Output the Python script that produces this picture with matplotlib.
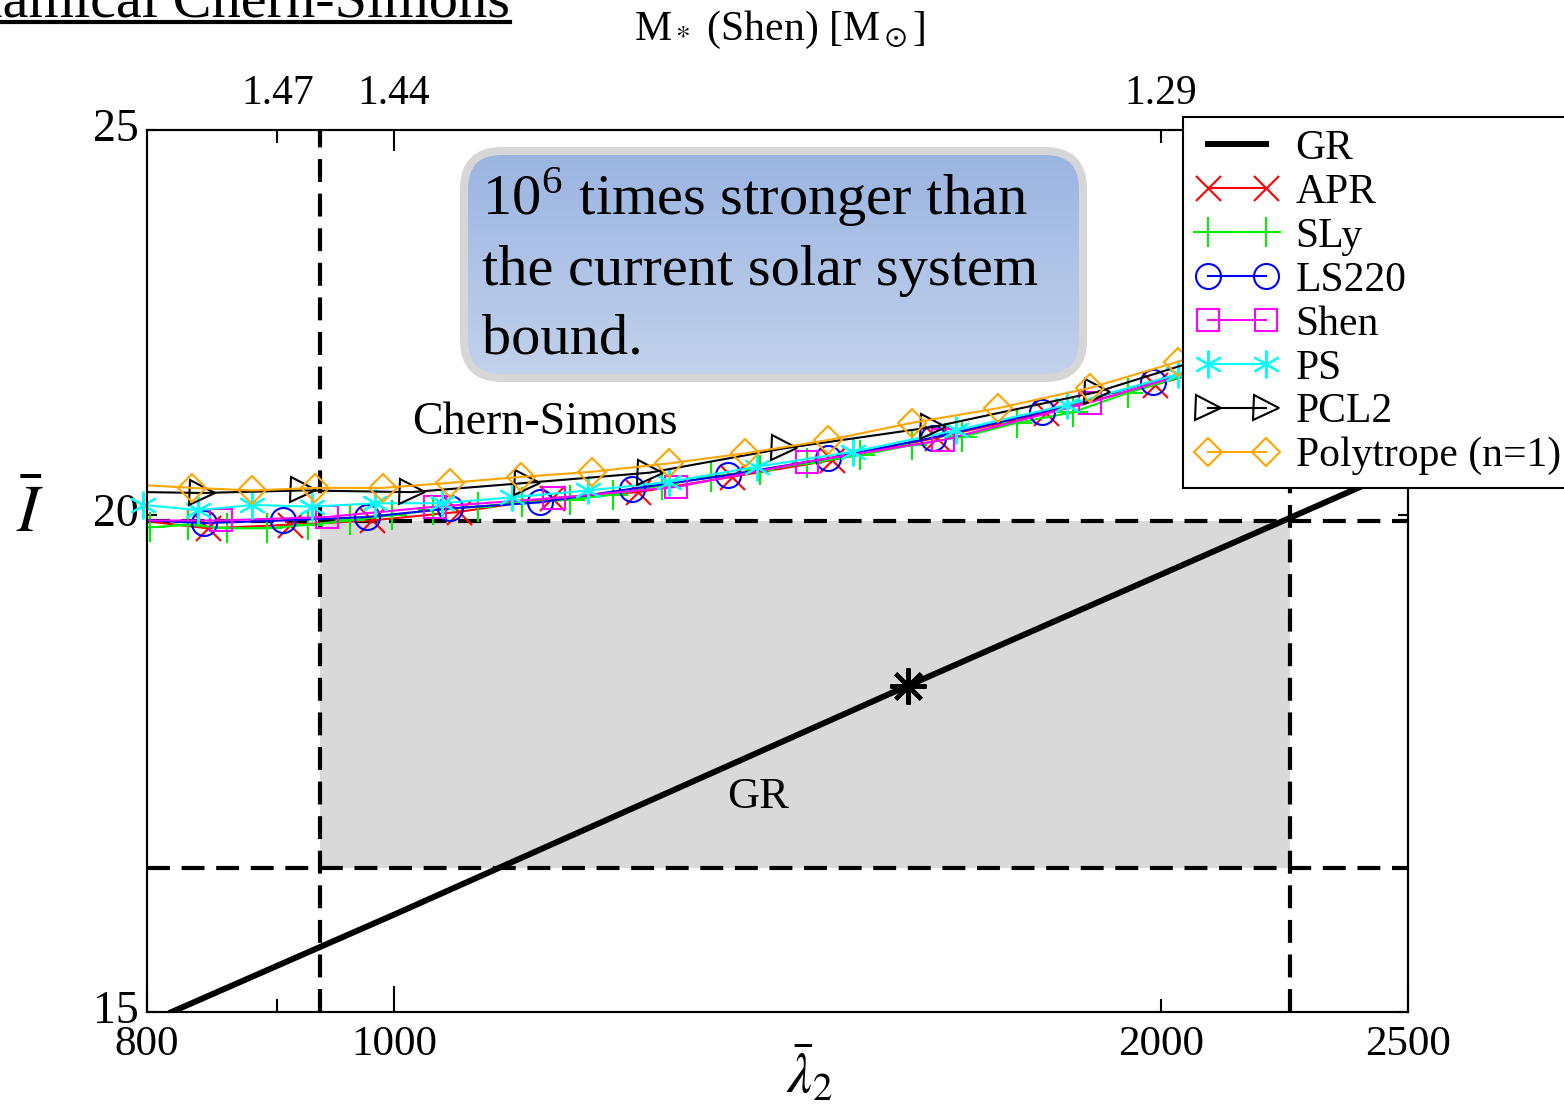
import numpy as np
import matplotlib
matplotlib.use("Agg")
import matplotlib.pyplot as plt
import matplotlib.ticker as mtick
from matplotlib.patches import FancyBboxPatch
from matplotlib.colors import LinearSegmentedColormap
from matplotlib.lines import Line2D
from matplotlib.transforms import ScaledTranslation

plt.rcParams['font.family'] = ['Liberation Serif', 'DejaVu Serif']
plt.rcParams['mathtext.fontset'] = 'stix'

# GR relation (straight in log-log) and the marked point
gr_lam = [818, 1000, 1591, 2247, 2500]
gr_I = [15.0, 15.87, 18.12, 19.97, 20.58]
star_lam = [1591]
star_I = [18.12]

# allowed region
band_lam = [935, 2248]
band_I = [16.30, 19.93]

# Chern-Simons curves per EOS
apr_lam = [800, 845, 910, 980, 1061, 1153, 1247, 1357, 1486, 1633, 1802, 1989, 2190]
apr_I = [19.93, 19.85, 19.89, 19.94, 20.04, 20.20, 20.27, 20.45, 20.65, 20.92, 21.22, 21.57, 21.95]

sly_lam = [802, 830, 860, 892, 925, 961, 998, 1036, 1079, 1123, 1172, 1219, 1274, 1332,
           1392, 1452, 1524, 1597, 1671, 1756, 1847, 1941, 2100]
sly_I = [19.86, 19.89, 19.85, 19.85, 19.89, 19.94, 20.00, 20.06, 20.10, 20.15, 20.18, 20.24, 20.35,
         20.45, 20.53, 20.61, 20.71, 20.83, 20.93, 21.10, 21.23, 21.47, 21.80]

ls220_lam = [800, 842, 905, 976, 1052, 1141, 1240, 1352, 1480, 1628, 1796, 1985, 2190]
ls220_I = [19.94, 19.91, 19.94, 19.98, 20.08, 20.15, 20.31, 20.47, 20.67, 20.92, 21.23, 21.61, 22.00]

shen_lam = [800, 855, 941, 1038, 1156, 1290, 1452, 1642, 1875, 2140]
shen_I = [19.94, 19.94, 19.98, 20.10, 20.20, 20.33, 20.63, 20.89, 21.35, 21.90]

ps_lam = [797, 838, 880, 929, 983, 1044, 1113, 1192, 1282, 1388, 1514, 1662, 1837, 2030]
ps_I = [20.12, 20.06, 20.12, 20.10, 20.14, 20.14, 20.21, 20.29, 20.39, 20.57, 20.75, 21.01, 21.32, 21.70]

pcl2_lam = [800, 841, 921, 1016, 1128, 1260, 1422, 1628, 1887, 2200]
pcl2_I = [20.27, 20.26, 20.29, 20.27, 20.38, 20.50, 20.79, 21.05, 21.48, 22.15]

poly_lam = [800, 833, 880, 931, 990, 1052, 1122, 1196, 1282, 1373, 1480, 1597, 1726, 1875, 2031, 2200]
poly_I = [20.35, 20.32, 20.29, 20.32, 20.32, 20.38, 20.45, 20.51, 20.61, 20.73, 20.89, 21.10, 21.28,
          21.53, 21.86, 22.20]

# tick labels
bottom_major = [800, 1000, 2500]
bottom_major_labels = ['800', '1000', '2500']
bottom_minor = [900, 2000]
bottom_minor_labels = ['', '2000']
top_major = [1000]
top_major_labels = ['1.44']
top_minor = [900, 2000]
top_minor_labels = ['1.47', '1.29']
y_ticks = [15, 20, 25]
y_labels = ['15', '20', '25']

W, H = 1564, 1106
fig = plt.figure(figsize=(W / 100, H / 100), dpi=100)
ax = fig.add_axes([147 / W, 1 - 1012 / H, (1408 - 147) / W, (1012 - 130) / H])
ax.set_xscale('log')
ax.set_yscale('log')
ax.set_xlim(800, 2500)
ax.set_ylim(15, 25)

# shaded box and dashed limits
ax.fill_between(band_lam, band_I[0], band_I[1], color='#d9d9d9', lw=0, zorder=0)
for v in band_lam:
    ax.axvline(v, color='k', lw=3, dashes=(5.5, 2.8), zorder=1)
for h in band_I:
    ax.axhline(h, color='k', lw=3, dashes=(5.5, 2.8), zorder=1)

gr_line, = ax.plot(gr_lam, gr_I, color='k', lw=4.3, label='GR', zorder=3)
ax.plot(star_lam, star_I, ls='none', marker=(8, 2, 0), ms=26, mew=3, color='k', zorder=4)

eos = [
    (apr_lam, apr_I, 'APR', '#ff0000', 'x', 18, 1, False),
    (sly_lam, sly_I, 'SLy', '#00ee00', '+', 22, 0, False),
    (ls220_lam, ls220_I, 'LS220', '#0000ff', 'o', 18, 1, False),
    (shen_lam, shen_I, 'Shen', '#ff00ff', 's', 16, 1, False),
    (ps_lam, ps_I, 'PS', '#00ffff', (6, 2, 0), 20, 0, True),
    (pcl2_lam, pcl2_I, 'PCL2', '#000000', '>', 18, 1, False),
    (poly_lam, poly_I, 'Polytrope (n=1)', '#ffa500', 'D', 14, 1, False),
]
handles = [gr_line]
for lam, vals, name, col, mk, size, skip, noclip in eos:
    ln, = ax.plot(lam, vals, color=col, lw=1.5, marker=mk, ms=size, mew=1.5,
                  mfc='none', mec=col, markevery=list(range(skip, len(lam))),
                  label=name, zorder=2, clip_on=not noclip)
    handles.append(ln)

# ticks
ax.xaxis.set_major_locator(mtick.FixedLocator(bottom_major))
ax.xaxis.set_major_formatter(mtick.FixedFormatter(bottom_major_labels))
ax.xaxis.set_minor_locator(mtick.FixedLocator(bottom_minor))
ax.xaxis.set_minor_formatter(mtick.FixedFormatter(bottom_minor_labels))
ax.yaxis.set_major_locator(mtick.FixedLocator(y_ticks))
ax.yaxis.set_major_formatter(mtick.FixedFormatter(y_labels))
ax.yaxis.set_minor_locator(mtick.NullLocator())
ax.tick_params(axis='x', which='major', direction='in', length=19, width=1.5, labelsize=31, pad=10, top=False)
ax.tick_params(axis='x', which='minor', direction='in', length=9.5, width=1.5, labelsize=31, pad=10, top=False)
ax.tick_params(axis='y', which='major', direction='in', length=7.5, width=1.5, labelsize=33, pad=6, right=True)
for lab in ax.get_yticklabels():
    lab.set_transform(lab.get_transform() + ScaledTranslation(0, 4 / 72, fig.dpi_scale_trans))
for s in ax.spines.values():
    s.set_linewidth(1.5)

ax_top = ax.twiny()
ax_top.set_xscale('log')
ax_top.set_xlim(800, 2500)
ax_top.xaxis.set_major_locator(mtick.FixedLocator(top_major))
ax_top.xaxis.set_major_formatter(mtick.FixedFormatter(top_major_labels))
ax_top.xaxis.set_minor_locator(mtick.FixedLocator(top_minor))
ax_top.xaxis.set_minor_formatter(mtick.FixedFormatter(top_minor_labels))
ax_top.tick_params(axis='x', which='major', direction='in', length=15, width=1.5, labelsize=30, pad=12)
ax_top.tick_params(axis='x', which='minor', direction='in', length=9, width=1.5, labelsize=30, pad=12)
for s in ax_top.spines.values():
    s.set_linewidth(1.5)

leg = ax_top.legend(handles=handles, loc='upper left', bbox_to_anchor=(1183 / W, 1 - 117 / H),
                    bbox_transform=fig.transFigure, borderaxespad=0, numpoints=2, fontsize=30,
                    fancybox=False, edgecolor='k', framealpha=1, handlelength=2.0,
                    handletextpad=0.4, labelspacing=0.13, borderpad=0.3)
leg.get_frame().set_linewidth(1.5)

# labels and annotations
fig.text(30 / W, 1 - 515 / H, r'$\bar{I}$', fontsize=48, ha='center', va='center')
fig.text(810 / W, 1 - 1075 / H, r'$\bar{\lambda}_2$', fontsize=40, ha='center', va='center')
fig.text(780 / W, 1 - 30 / H, r'M$_*$ (Shen) [M$_\odot$]', fontsize=30, ha='center', va='center')
fig.text(545 / W, 1 - 423 / H, 'Chern-Simons', fontsize=33, ha='center', va='center')
fig.text(758 / W, 1 - 797 / H, 'GR', fontsize=32, ha='center', va='center')

# cut-off slide title
fig.text(510 / W, 1 - 17 / H, 'Dynamical Chern-Simons', fontsize=42, ha='right', va='baseline')
fig.add_artist(Line2D([0, 510 / W], [1 - 22 / H, 1 - 22 / H], color='k', lw=3,
                      transform=fig.transFigure))

# rounded gradient box
bx = fig.add_axes([460 / W, 1 - 382 / H, 627 / W, 235 / H])
bx.set_xlim(0, 627)
bx.set_ylim(0, 235)
bx.axis('off')
box = FancyBboxPatch((4, 4), 619, 227, boxstyle='round,pad=0,rounding_size=38',
                     fc='none', ec='#d6d6d6', lw=5.8)
cmap = LinearSegmentedColormap.from_list('boxgrad', ['#c3d2ec', '#9ab4e1'])
grad = np.linspace(0, 1, 200).reshape(-1, 1)
im = bx.imshow(grad, extent=[4, 623, 4, 231], origin='lower', aspect='auto', cmap=cmap)
bx.add_patch(box)
im.set_clip_path(box)
bx.text(22, 167, r'10$^{\mathregular{6}}$ times stronger than', fontsize=42, va='baseline')
bx.text(22, 97, 'the current solar system', fontsize=42, va='baseline')
bx.text(22, 29, 'bound.', fontsize=42, va='baseline')

plt.savefig('out.png', dpi=100)
